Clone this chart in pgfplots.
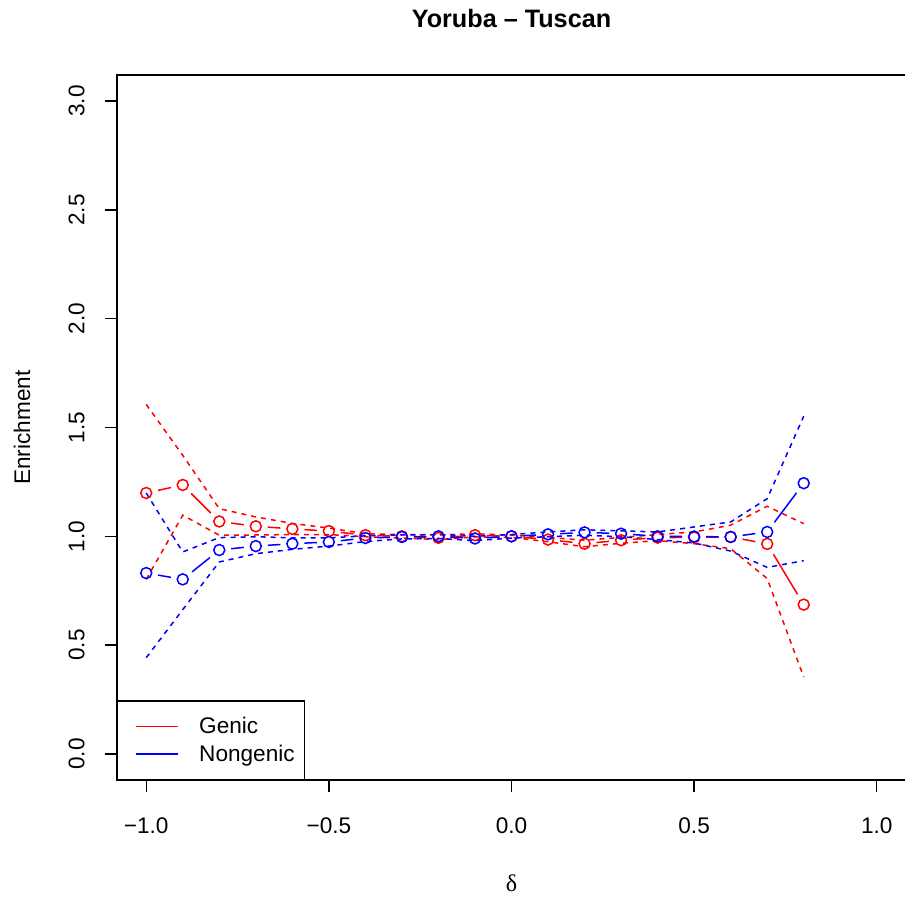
\documentclass[border=0pt]{standalone}
\usepackage{fontspec}
\setmainfont{Liberation Sans}
\newfontfamily\seriffont{Liberation Serif}
\usepackage{pgfplots}
\pgfplotsset{compat=1.18}
\usepackage{pgfplotstable}

\pgfplotstableread{
x     g     gn    n     nn    gu    gl    nu    nl
-1.0 1.199 1.236 0.831 0.802 1.606 0.802 1.199 0.442
-0.9 1.236 1.068 0.802 0.937 1.372 1.097 0.928 0.663
-0.8 1.068 1.046 0.937 0.955 1.127 1.005 0.994 0.882
-0.7 1.046 1.034 0.955 0.966 1.089 1.006 0.998 0.920
-0.6 1.034 1.024 0.966 0.974 1.059 1.008 0.993 0.940
-0.5 1.024 1.005 0.974 0.992 1.038 1.008 0.993 0.955
-0.4 1.005 1.000 0.992 0.997 1.012 0.998 1.002 0.976
-0.3 1.000 0.993 0.997 1.000 1.008 0.992 1.006 0.988
-0.2 0.993 1.005 1.000 0.990 1.006 0.985 1.008 0.990
-0.1 1.005 1.000 0.990 1.000 1.012 0.997 1.000 0.980
0.0  1.000 0.985 1.000 1.009 1.005 0.995 1.008 0.992
0.1  0.985 0.966 1.009 1.018 0.995 0.975 1.020 0.998
0.2  0.966 0.982 1.018 1.012 0.982 0.952 1.030 1.005
0.3  0.982 0.994 1.012 1.000 0.995 0.968 1.025 0.998
0.4  0.994 0.995 1.000 0.999 1.008 0.980 1.020 0.985
0.5  0.995 0.997 0.999 0.997 1.020 0.966 1.043 0.969
0.6  0.997 0.965 0.997 1.020 1.051 0.943 1.066 0.932
0.7  0.965 0.686 1.020 1.244 1.138 0.806 1.173 0.857
0.8  0.686 0.686 1.244 1.244 1.058 0.353 1.552 0.888
}\data

\definecolor{rred}{RGB}{255,0,0}
\definecolor{rblue}{RGB}{0,0,255}

\begin{document}
\begin{tikzpicture}
\begin{axis}[
  at={(0,0)}, anchor=south west,
  scale only axis,
  width=394.5pt, height=352.5pt,
  xmin=-1.08, xmax=1.08, ymin=-0.12, ymax=3.12,
  axis line style={line width=0.7pt},
  tick style={line width=0.7pt, black},
  tick align=outside, tick pos=left,
  major tick length=6.2pt,
  xtick={-1,-0.5,0,0.5,1},
  xticklabels={−1.0,−0.5,0.0,0.5,1.0},
  ytick={0,0.5,1,1.5,2,2.5,3},
  yticklabels={0.0,0.5,1.0,1.5,2.0,2.5,3.0},
  every tick label/.append style={font=\fontsize{11.3}{13}\selectfont},
  xticklabel style={anchor=center},
  xticklabel shift=16.5pt,
  yticklabel style={anchor=center, rotate=90},
  yticklabel shift=14pt,
  xlabel={\seriffont\fontsize{12}{14}\selectfont δ},
  xlabel style={at={(axis description cs:0.5,-0.1461)}, anchor=center},
  ylabel={\fontsize{11.3}{13}\selectfont Enrichment},
  ylabel style={at={(axis description cs:-0.1204,0.5)}, anchor=center},
  title={\bfseries\fontsize{12.6}{15}\selectfont Yoruba – Tuscan},
  title style={at={(axis description cs:0.5,1.0625)}, anchor=center},
  legend style={at={(axis description cs:0,0)}, anchor=south west,
    draw=black, line width=0.7pt,
    font=\fontsize{11.3}{13}\selectfont,
    inner xsep=5pt, inner ysep=7.5pt,
    row sep=3.2pt,
    nodes={inner sep=0pt, text height=8.85pt, text depth=1.65pt},
    /tikz/every odd column/.append style={column sep=10pt}},
  legend cell align=left,
]
% confidence bands
\addplot[rred, line width=0.75pt, dash pattern=on 2.5pt off 2.5pt, forget plot] table[x=x,y=gu] {\data};
\addplot[rred, line width=0.75pt, dash pattern=on 2.5pt off 2.5pt, forget plot] table[x=x,y=gl] {\data};
\addplot[rblue, line width=0.75pt, dash pattern=on 2.5pt off 2.5pt, forget plot] table[x=x,y=nu] {\data};
\addplot[rblue, line width=0.75pt, dash pattern=on 2.5pt off 2.5pt, forget plot] table[x=x,y=nl] {\data};
% connecting segments with gaps (type b)
\addplot[rred, line width=0.75pt, forget plot,
  quiver={u=0.1, v=\thisrow{gn}-\thisrow{g},
    every arrow/.append style={shorten <=6pt, shorten >=6pt}},
  skip coords between index={18}{19}] table[x=x,y=g] {\data};
\addplot[rblue, line width=0.75pt, forget plot,
  quiver={u=0.1, v=\thisrow{nn}-\thisrow{n},
    every arrow/.append style={shorten <=6pt, shorten >=6pt}},
  skip coords between index={18}{19}] table[x=x,y=n] {\data};
% points
\addplot[rred, only marks, mark=o, mark size=2.75pt, line width=0.75pt,
  legend image code/.code={\path (-4pt,0pt); \draw[rred, line width=0.75pt] (0pt,0pt) -- (21pt,0pt);}]
  table[x=x,y=g] {\data};
\addlegendentry{Genic}
\addplot[rblue, only marks, mark=o, mark size=2.75pt, line width=0.75pt,
  legend image code/.code={\path (-4pt,0pt); \draw[rblue, line width=0.75pt] (0pt,0pt) -- (21pt,0pt);}]
  table[x=x,y=n] {\data};
\addlegendentry{Nongenic}
\end{axis}
\pgfresetboundingbox
\useasboundingbox (-58.5pt,-58pt) rectangle (394pt,390pt);
\end{tikzpicture}
\end{document}
